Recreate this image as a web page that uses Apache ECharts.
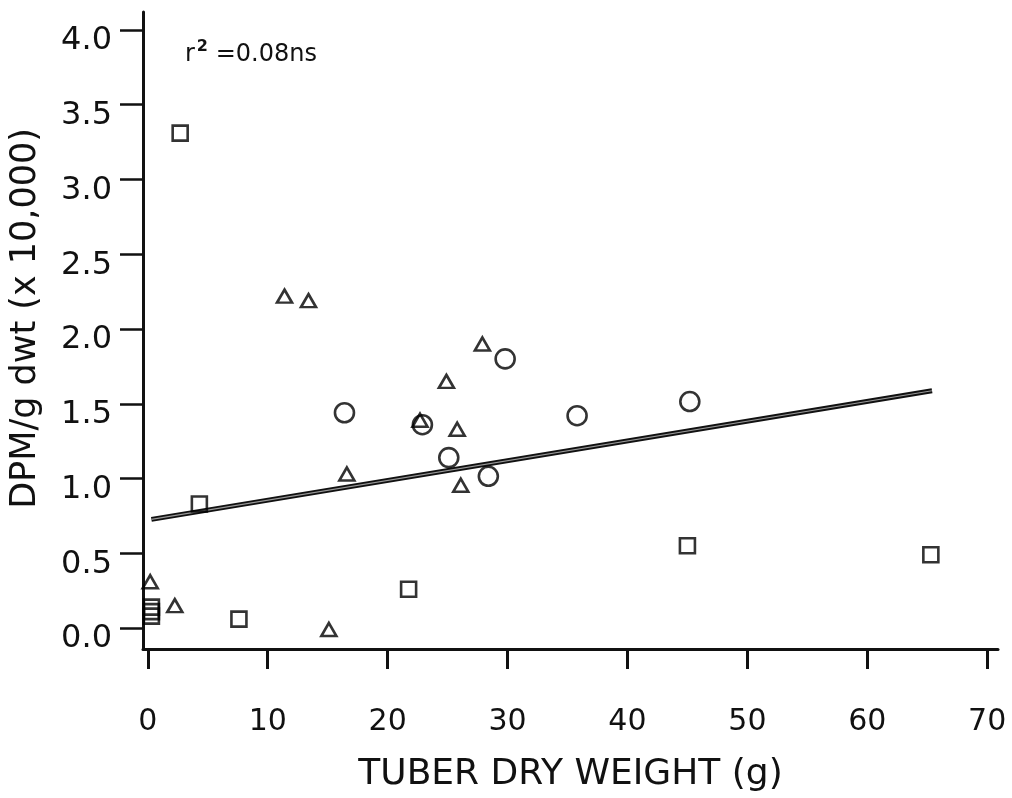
<!DOCTYPE html>
<html>
<head>
<meta charset="utf-8">
<script src="https://cdn.jsdelivr.net/npm/echarts@6/dist/echarts.min.js"></script>
<style>
  html, body { margin: 0; padding: 0; background: #fff; }
  #chart { width: 1012px; height: 798px; }
</style>
</head>
<body>
<div id="chart"></div>
<script>
// ---- data ----
var xTicks = [0, 10, 20, 30, 40, 50, 60, 70];
var yTicks = [0, 0.5, 1.0, 1.5, 2.0, 2.5, 3.0, 3.5, 4.0];
var squares = [[2.7, 3.31], [4.3, 0.83], [7.6, 0.06], [21.75, 0.26], [45.0, 0.55], [65.3, 0.49], [0.3, 0.08], [0.3, 0.11], [0.3, 0.14]];
var triangles = [[0.2, 0.31], [2.25, 0.15], [15.1, -0.01], [16.6, 1.03], [11.4, 2.22], [13.4, 2.19], [27.9, 1.90], [24.9, 1.65], [22.7, 1.39], [25.8, 1.33], [26.1, 0.955]];
var circles = [[16.4, 1.44], [29.8, 1.80], [22.9, 1.36], [35.8, 1.42], [25.1, 1.14], [28.4, 1.015], [45.2, 1.515]];
var fitLine = [[0.3, 0.727], [65.4, 1.587]];
var r2Label = '0.08ns';
var xTitle = 'TUBER DRY WEIGHT (g)';
var yTitle = 'DPM/g dwt (x 10,000)';

var FONT = '"DejaVu Sans", "Liberation Sans", Arial, sans-serif';
var chart = echarts.init(document.getElementById('chart'), null, { renderer: 'canvas' });

var hollow = { color: 'rgba(0,0,0,0)', borderColor: '#000', borderWidth: 2.6 };

chart.setOption({
  backgroundColor: '#fff',
  animation: false,
  title: {
    left: 180, top: 34,
    text: '{a|r}{s|2}{a| =' + r2Label + '}',
    textStyle: {
      rich: {
        a: { fontFamily: FONT, fontSize: 24, fontWeight: 'normal', color: '#111', verticalAlign: 'bottom' },
        s: { fontFamily: FONT, fontSize: 16, fontWeight: 'bold', color: '#111', padding: [0, 0, 12, 2], verticalAlign: 'bottom' }
      }
    }
  },
  grid: { left: 143, right: 14, top: 12, bottom: 148 },
  xAxis: {
    type: 'value', min: -0.4, max: 70.9,
    splitLine: { show: false },
    axisLine: { show: true, onZero: false, lineStyle: { color: '#111', width: 3 } },
    axisTick: { show: true, customValues: xTicks, length: 20, lineStyle: { color: '#111', width: 3 } },
    axisLabel: { customValues: xTicks, margin: 58, fontSize: 30, fontFamily: FONT, color: '#111' },
    name: xTitle, nameLocation: 'middle', nameGap: 108,
    nameTextStyle: { fontSize: 36, fontFamily: FONT, color: '#111' }
  },
  yAxis: {
    type: 'value', min: -0.14, max: 4.12,
    splitLine: { show: false },
    axisLine: { show: true, onZero: false, lineStyle: { color: '#111', width: 3 } },
    axisTick: { show: true, customValues: yTicks, length: 23, lineStyle: { color: '#111', width: 2.5 } },
    axisLabel: {
      customValues: yTicks, margin: 31, fontSize: 32, fontFamily: FONT, color: '#111',
      verticalAlign: 'top', lineHeight: 22,
      formatter: function (v) { return v.toFixed(1); }
    },
    name: yTitle, nameLocation: 'middle', nameGap: 100, nameRotate: 90,
    nameTextStyle: { fontSize: 35, fontFamily: FONT, color: '#111', padding: [0, 0, 0, 24] }
  },
  series: [
    { type: 'line', data: fitLine, symbol: 'none', lineStyle: { color: '#111', width: 5 }, z: 1 },
    { type: 'line', data: fitLine, symbol: 'none', lineStyle: { color: '#999', width: 1.2 }, z: 1 },
    { type: 'scatter', data: squares, symbol: 'rect', symbolSize: 15, itemStyle: hollow, z: 3 },
    { type: 'scatter', data: triangles, symbol: 'triangle', symbolSize: [15, 13], itemStyle: hollow, z: 3 },
    { type: 'scatter', data: circles, symbol: 'circle', symbolSize: 19, itemStyle: hollow, z: 3 }
  ]
});
</script>
</body>
</html>
